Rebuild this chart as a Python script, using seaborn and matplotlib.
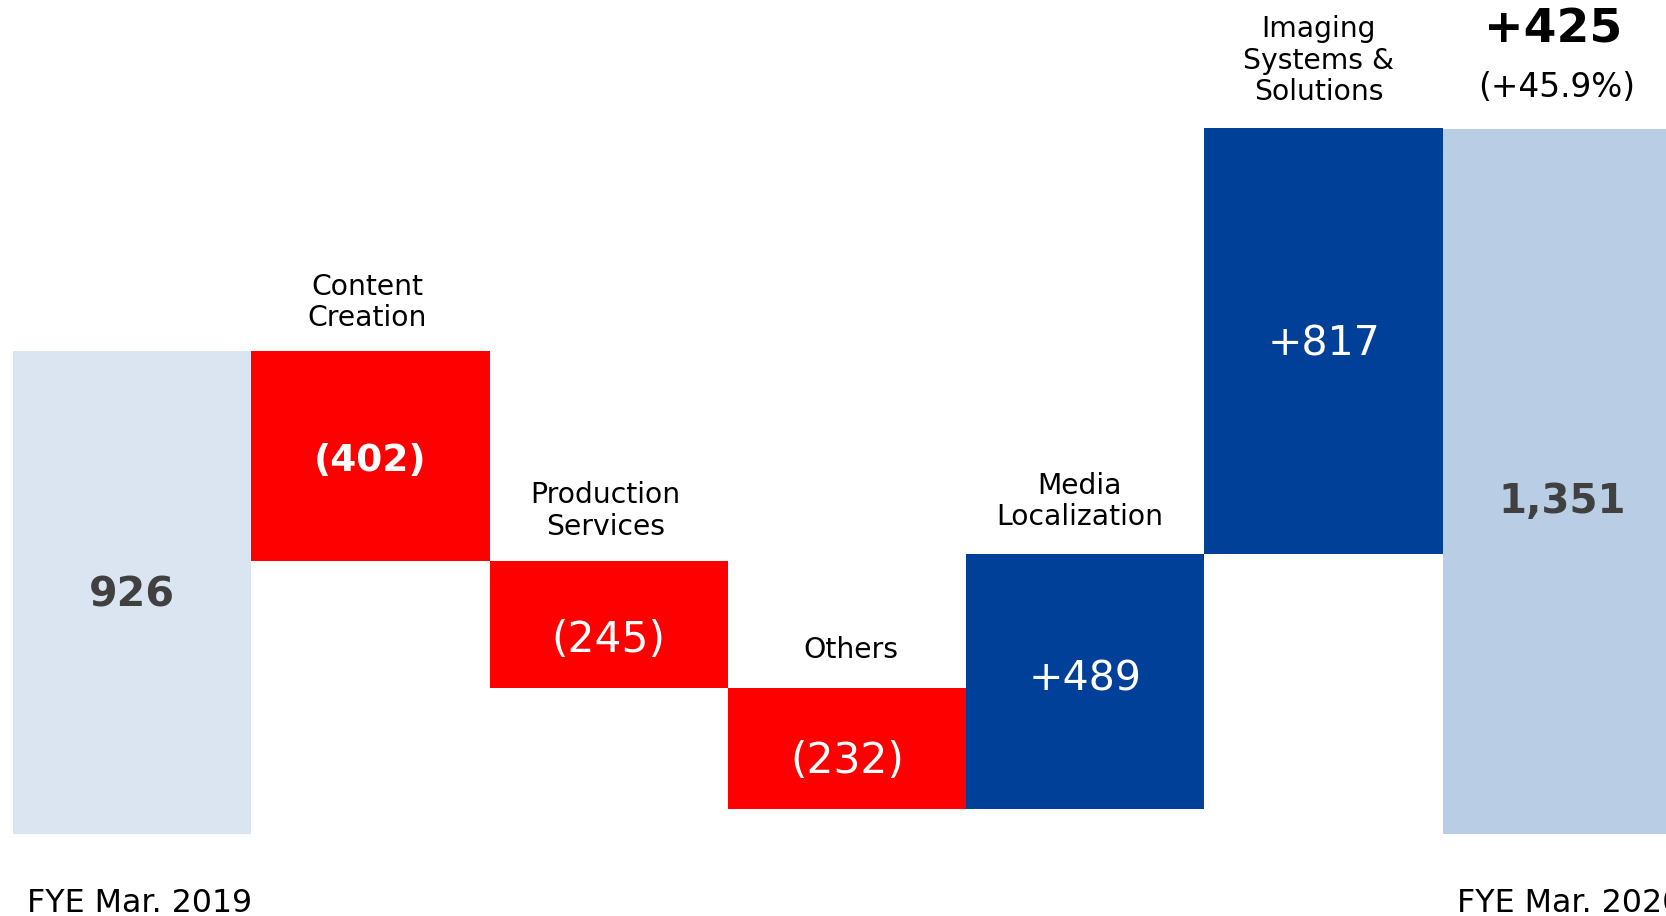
import numpy as np
import pandas as pd
import matplotlib
matplotlib.use("Agg")
import matplotlib.pyplot as plt
import seaborn as sns

# ---- data ----
categories = ["FYE Mar. 2019", "Content\nCreation", "Production\nServices", "Others",
              "Media\nLocalization", "Imaging\nSystems &\nSolutions", "FYE Mar. 2020"]
changes = [926, -402, -245, -232, 489, 817, 1351]
value_labels = ["926", "(402)", "(245)", "(232)", "+489", "+817", "1,351"]
total_change_label = "+425"
total_change_pct = "(+45.9%)"

# ---- waterfall geometry from data ----
n = len(changes)
tops, bottoms = [], []
running = 0
for i, v in enumerate(changes):
    if i == 0 or i == n - 1:
        bottoms.append(0)
        tops.append(v)
        running = v
    else:
        start = running
        running = running + v
        bottoms.append(min(start, running))
        tops.append(max(start, running))

keys = [f"k{i}" for i in range(n)]
df = pd.DataFrame({"key": keys, "top": tops, "bottom": bottoms})

colors = ["#dbe5f1", "#ff0000", "#ff0000", "#ff0000", "#004098", "#004098", "#b9cde4"]

sns.set_theme(style="white")
plt.rcParams["font.family"] = ["DejaVu Sans"]

fig = plt.figure(figsize=(16.66, 9.16), dpi=100)
ax = fig.add_axes([0, 0, 1, 1])

sns.barplot(data=df, x="key", y="top", hue="key", palette=colors, order=keys,
            hue_order=keys, width=1.0, saturation=1, linewidth=0, legend=False,
            antialiased=False, ax=ax)
sns.barplot(data=df, x="key", y="bottom", color="white", order=keys,
            width=1.0, saturation=1, linewidth=0, antialiased=False, ax=ax)

ax.set_xlim(-0.5546, 6.437)
ax.set_ylim(-157.1, 1598.3)
ax.axis("off")

# value labels inside bars
val_colors = ["#404040", "white", "white", "white", "white", "white", "#404040"]
val_weights = ["bold", "bold", "normal", "normal", "normal", "normal", "bold"]
val_sizes = [29.7, 27, 30.5, 30.5, 29.6, 29.6, 29]
val_dy = [-3, -5, -15, -12, 2, -3, -20]
for i in range(n):
    ymid = (tops[i] + bottoms[i]) / 2
    ax.annotate(value_labels[i], xy=(i, ymid), xytext=(0, val_dy[i]),
                textcoords="offset pixels", ha="center", va="center",
                fontsize=val_sizes[i], fontweight=val_weights[i], color=val_colors[i])

# category labels above intermediate bars
lab_dx = [-3, -3, 4, -6, -5]
lab_dy = [19, 20, 24, 23, 22]
for j, i in enumerate(range(1, n - 1)):
    ax.annotate(categories[i], xy=(i, tops[i]), xytext=(lab_dx[j], lab_dy[j]),
                textcoords="offset pixels", ha="center", va="bottom",
                fontsize=20.3, color="black", linespacing=1.15)

# total change annotation above final bar
ax.annotate(total_change_label, xy=(n - 1, tops[-1]), xytext=(-9, 99),
            textcoords="offset pixels", ha="center", va="center",
            fontsize=34, fontweight="bold", color="black")
ax.annotate(total_change_pct, xy=(n - 1, tops[-1]), xytext=(-5, 42),
            textcoords="offset pixels", ha="center", va="center",
            fontsize=23.6, color="black")

# period labels below first/last bar
for i in (0, n - 1):
    ax.annotate(categories[i], xy=(i - 0.5, 0), xytext=(14, -69),
                textcoords="offset pixels", ha="left", va="center",
                fontsize=22.8, color="black")

fig.savefig("out.png", dpi=100)
